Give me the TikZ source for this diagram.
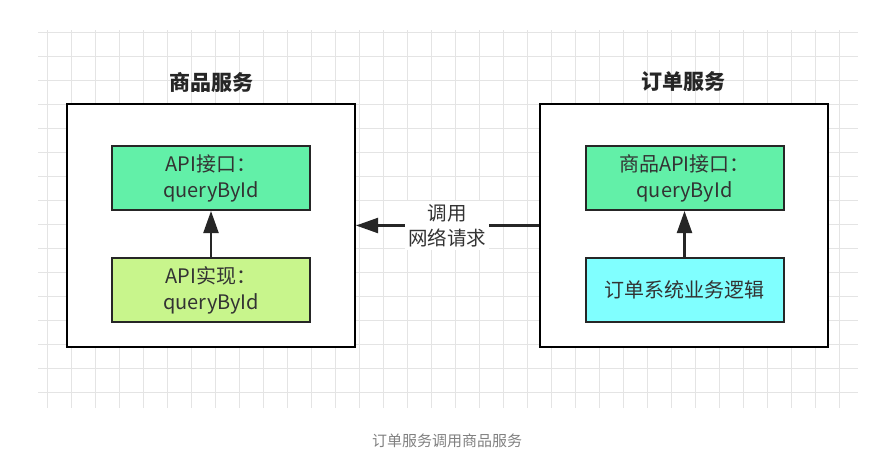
\documentclass[tikz,border=0pt]{standalone}
\usepackage{fontspec}
\setmainfont{Noto Sans CJK SC}
\usepackage{tikz}
\usetikzlibrary{positioning,arrows.meta}
\usepackage{xcolor}
\definecolor{apigreen}{RGB}{98,240,168}
\definecolor{implgreen}{RGB}{200,245,140}
\definecolor{logiccyan}{RGB}{128,255,255}
\definecolor{textgray}{RGB}{51,51,51}
\definecolor{gridgray}{RGB}{228,228,228}

\begin{document}
\begin{tikzpicture}[x=1pt,y=-1pt,>={Triangle[length=22pt,width=15pt]},
  service/.style={draw=black,line width=2pt,minimum width=288pt,minimum height=243pt},
  api/.style={draw=black!85,line width=2pt,minimum width=198pt,minimum height=64pt,
    align=center,text=textgray,font=\fontsize{20}{26}\selectfont,inner sep=0pt},
  title/.style={font=\fontsize{21}{24}\selectfont\bfseries,text=black!85},
  call/.style={->,line width=2.2pt,draw=black!85}]
\useasboundingbox (0,0) rectangle (879,467);
% background grid
\foreach \gx in {47,71,...,839} \draw[gridgray,line width=0.8pt] (\gx,30) -- (\gx,408);
\foreach \gy in {32,56,...,392} \draw[gridgray,line width=0.8pt] (38,\gy) -- (858,\gy);

\node[service,fill=white] (prd) at (211,225.5) {};
\node[service,fill=white] (ord) at (683.5,225.5) {};
\node[title] (prdtitle) at (211,82) {商品服务};
\node[title] (ordtitle) at (683.5,82) {订单服务};

\node[api,fill=apigreen] (prdapi) at (211,178) {API接口：\\queryById};
\node[api,fill=implgreen] (prdimpl) at (211,290) {API实现：\\queryById};
\node[api,fill=apigreen] (ordapi) at (684.5,178) {商品API接口：\\queryById};
\node[api,fill=logiccyan] (ordlogic) at (684.5,290) {订单系统业务逻辑};

\draw[call] (prdimpl) -- (prdapi);
\draw[call] (ordlogic) -- (ordapi);
\draw[call] (ord.west) -- node[fill=white,align=center,text=textgray,
  font=\fontsize{19.5}{25}\selectfont,inner sep=3pt] (rpc) {调用\\网络请求} (prd.east);

\node[text=black!50,font=\fontsize{15}{18}\selectfont] (caption) at (447,441) {订单服务调用商品服务};
\end{tikzpicture}
\end{document}
